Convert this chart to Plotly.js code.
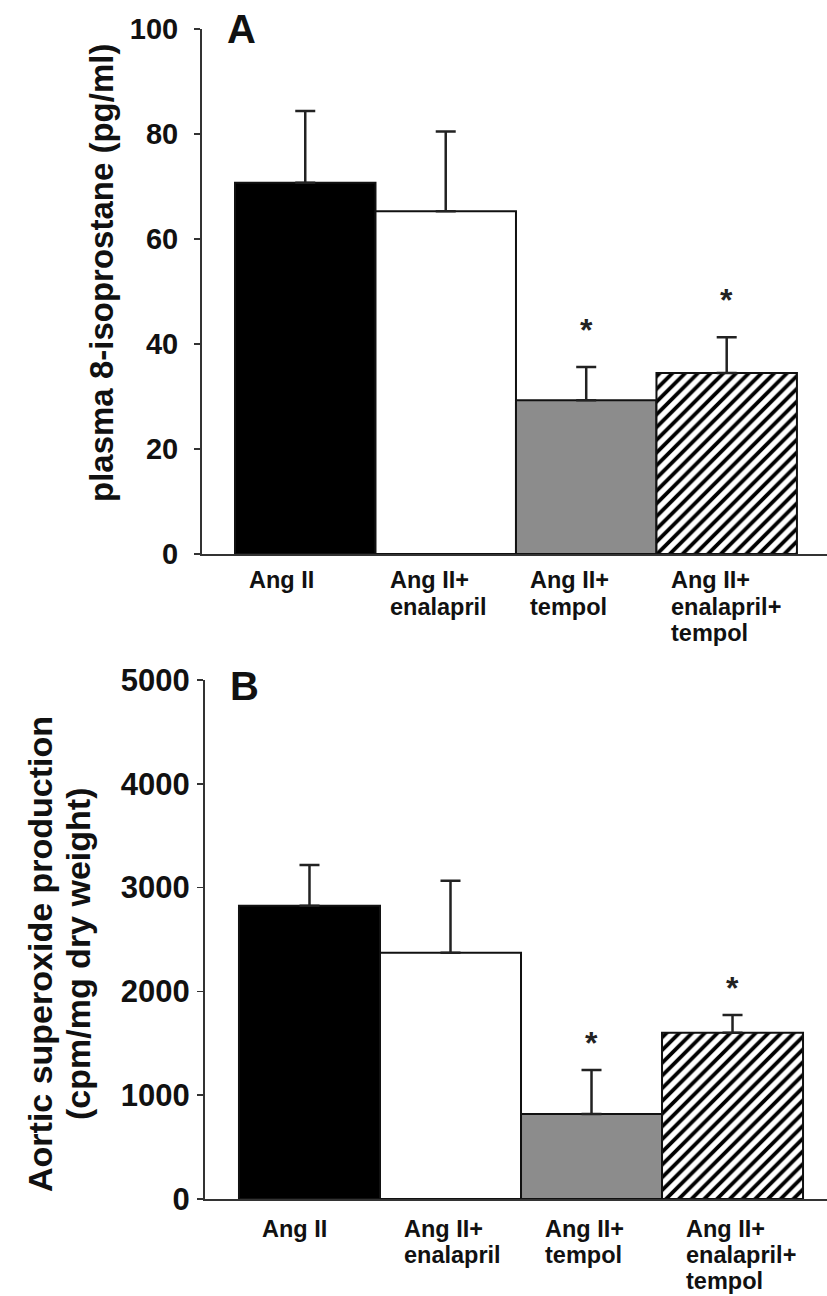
<!DOCTYPE html>
<html><head><meta charset="utf-8">
<script src="https://cdn.plot.ly/plotly-3.0.1.min.js"></script>
<style>html,body{margin:0;padding:0;background:#fff}</style>
</head><body><div id="chart" style="width:827px;height:1296px"></div>
<script>
// ---- data ----
const categories = ['Ang II', 'Ang II+ enalapril', 'Ang II+ tempol', 'Ang II+ enalapril+ tempol'];
const isoprostaneMean = [70.7, 65.3, 29.3, 34.5];
const isoprostaneSEM  = [13.7, 15.2, 6.3, 6.8];
const superoxideMean  = [2826, 2373, 820, 1602];
const superoxideSEM   = [392, 693, 423, 171];
const significant     = [false, false, true, true];
const isoTicks = [0, 20, 40, 60, 80, 100];
const supTicks = [0, 1000, 2000, 3000, 4000, 5000];
const panelLetters = ['A', 'B'];
const isoTitle = 'plasma 8-isoprostane (pg/ml)';
const supTitleLines = ['Aortic superoxide production', '(cpm/mg dry weight)'];

// ---- styles ----
const FONT = 'Liberation Sans, Arial, Helvetica, sans-serif';
const barColors = ['#000000', '#ffffff', '#8c8c8c', '#ffffff'];
const barPatterns = ['', '', '', '/'];
const W = 827, H = 1296;

const data = [];
function addBars(mean, err, xa, ya) {
  categories.forEach((c, i) => {
    const marker = {color: barColors[i], line: {color: '#111', width: 2}};
    if (barPatterns[i]) {
      marker.pattern = {shape: barPatterns[i], fgcolor: '#000000', bgcolor: '#ffffff',
                        fgopacity: 1, size: 9, solidity: 0.42, fillmode: 'replace'};
    }
    data.push({
      type: 'bar', x: [c], y: [mean[i]], xaxis: xa, yaxis: ya, width: 1, marker: marker,
      error_y: {type: 'data', symmetric: false, array: [err[i]], arrayminus: [0],
                color: '#222', thickness: 2.5, width: 10},
      hoverinfo: 'skip', showlegend: false
    });
  });
}
addBars(isoprostaneMean, isoprostaneSEM, 'x', 'y');
addBars(superoxideMean, superoxideSEM, 'x2', 'y2');

function yAxis(domain, range, ticks, size, standoff, anchor) {
  return {
    domain: domain, range: range, tickvals: ticks, ticktext: ticks.map(String), anchor: anchor,
    ticks: 'outside', ticklen: 6, tickwidth: 1.5, tickcolor: '#333',
    showline: true, linewidth: 2, linecolor: '#333', showgrid: false, zeroline: false,
    tickfont: {family: FONT, size: size, color: '#111', weight: 'bold'},
    ticklabelstandoff: standoff, fixedrange: true
  };
}
function xAxis(domain, range, anchor) {
  return {
    domain: domain, range: range, anchor: anchor, type: 'category',
    categoryorder: 'array', categoryarray: categories,
    showline: true, linewidth: 2, linecolor: '#333', ticks: '', showticklabels: false,
    showgrid: false, zeroline: false, fixedrange: true
  };
}

const annotations = [];
const bold = (size) => ({family: FONT, size: size, color: '#111', weight: 'bold'});
// axis titles
annotations.push({xref: 'paper', yref: 'paper', x: 101 / W, y: 1 - 273 / H, text: isoTitle,
  textangle: -90, showarrow: false, xanchor: 'center', yanchor: 'middle', font: bold(33)});
supTitleLines.forEach((t, i) => {
  annotations.push({xref: 'paper', yref: 'paper', x: (40 + 38 * i) / W, y: 1 - 954 / H, text: t,
    textangle: -90, showarrow: false, xanchor: 'center', yanchor: 'middle', font: bold(34)});
});
// panel letters
annotations.push({xref: 'paper', yref: 'paper', x: 242 / W, y: 1 - 29 / H, text: panelLetters[0],
  showarrow: false, xanchor: 'center', yanchor: 'middle', font: bold(40)});
annotations.push({xref: 'paper', yref: 'paper', x: 244 / W, y: 1 - 686 / H, text: panelLetters[1],
  showarrow: false, xanchor: 'center', yanchor: 'middle', font: bold(40)});

// category labels (left-aligned lines below each bar)
function catLabels(xa, ya, xshift, first, step, size) {
  categories.forEach(c => {
    c.split(/(?<=\+) /).forEach((line, i) => {
      annotations.push({xref: xa, yref: ya, x: c, y: 0, text: line, showarrow: false,
        xanchor: 'left', yanchor: 'middle', xshift: xshift, yshift: -(first + step * i),
        font: bold(size)});
    });
  });
}
catLabels('x', 'y', -58, 26, 26.5, 23.5);
catLabels('x2', 'y2', -49, 30, 26, 23.5);

// significance stars
function stars(xa, ya, mean, err, shift) {
  categories.forEach((c, i) => {
    if (!significant[i]) return;
    annotations.push({xref: xa, yref: ya, x: c, y: mean[i] + err[i], text: '*', showarrow: false,
      xanchor: 'center', yanchor: 'bottom', yshift: shift,
      font: {family: FONT, size: 32, color: '#222', weight: 'bold'}});
  });
}
stars('x', 'y', isoprostaneMean, isoprostaneSEM, 17);
stars('x2', 'y2', superoxideMean, superoxideSEM, 7);

const layout = {
  width: W, height: H, margin: {l: 0, r: 0, t: 0, b: 0},
  paper_bgcolor: '#fff', plot_bgcolor: '#fff', bargap: 0, barmode: 'overlay', showlegend: false,
  xaxis: xAxis([202 / W, 1], [-0.735, 3.714], 'y'),
  yaxis: yAxis([1 - 554 / H, 1 - 29 / H], [0, 100], isoTicks, 29, 10, 'x'),
  xaxis2: xAxis([205 / W, 1], [-0.741, 3.67], 'y2'),
  yaxis2: yAxis([1 - 1199 / H, 1 - 680 / H], [0, 5000], supTicks, 31, 1, 'x2'),
  annotations: annotations
};

Plotly.newPlot('chart', data, layout, {staticPlot: true, displayModeBar: false});
</script>
</body></html>
